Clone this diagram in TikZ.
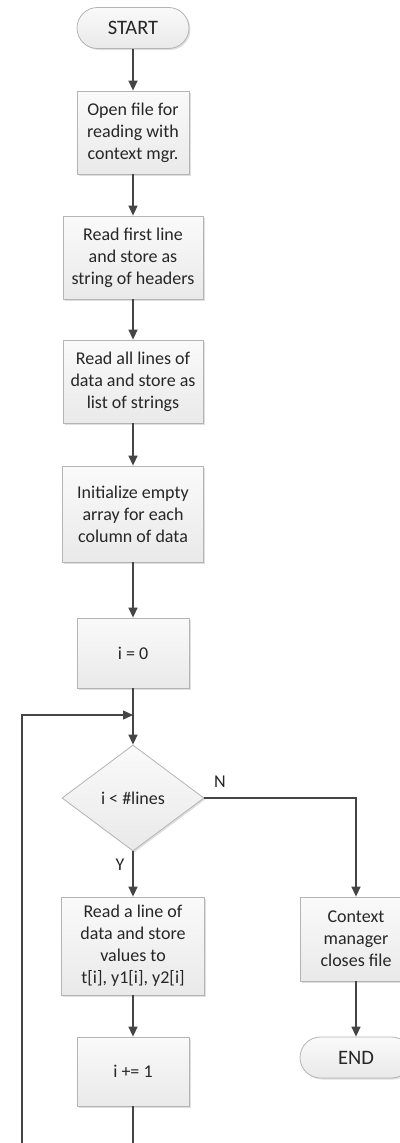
\documentclass[tikz,border=0pt]{standalone}
\usepackage{fontspec}
\setmainfont{Carlito}
\usetikzlibrary{arrows.meta,shapes.geometric,shadows}

\definecolor{linegray}{HTML}{454545}
\definecolor{edgegray}{HTML}{B4B4B4}
\definecolor{textgray}{HTML}{262626}

\tikzset{
  boxbase/.style={draw=edgegray, line width=0.8pt, top color=white!96!gray,
    bottom color=gray!17, text=textgray, align=center, inner sep=2pt,
    font=\fontsize{18}{22}\selectfont,
    drop shadow={shadow xshift=1.5pt, shadow yshift=-1.5pt, opacity=0.25, fill=gray}},
  procbox/.style={boxbase, rectangle},
  termbox/.style={boxbase, rectangle, rounded corners=20.5pt,
    minimum width=112pt, minimum height=41pt,
    font=\fontsize{20.5}{24}\selectfont},
  decbox/.style={boxbase, diamond, minimum width=142pt, minimum height=106pt,
    inner sep=0pt},
  flow/.style={draw=linegray, line width=1.4pt,
    -{Triangle[length=10pt,width=9pt]}},
  plainflow/.style={draw=linegray, line width=1.4pt},
  lbl/.style={text=textgray, font=\fontsize{18}{22}\selectfont}
}

\begin{document}
\begin{tikzpicture}[x=1pt, y=-1pt]
  \useasboundingbox (0,0) rectangle (399,1143);

  % main column
  \node[termbox] (start) at (133,28) {START};
  \node[procbox, minimum width=112pt, minimum height=83pt] (open) at (133,132.5)
    {Open file for\\reading with\\context mgr.};
  \node[procbox, minimum width=140pt, minimum height=83pt] (first) at (133,257.5)
    {Read first line\\and store as\\string of headers};
  \node[procbox, minimum width=140pt, minimum height=83pt] (all) at (133,381.5)
    {Read all lines of\\data and store as\\list of strings};
  \node[procbox, minimum width=141pt, minimum height=96pt] (init) at (133,514)
    {Initialize empty\\array for each\\column of data};
  \node[procbox, minimum width=112pt, minimum height=70pt] (izero) at (133,653)
    {i = 0};
  \node[decbox] (test) at (133,798) {i < \#lines};
  \node[procbox, minimum width=143pt, minimum height=98pt] (readline) at (133,946)
    {Read a line of\\data and store\\values to\\t[i], y1[i], y2[i]};
  \node[procbox, minimum width=112pt, minimum height=69pt] (inc) at (133,1071.5)
    {i += 1};

  % exit branch
  \node[procbox, minimum width=112pt, minimum height=84pt] (ctx) at (356,939)
    {Context\\manager\\closes file};
  \node[termbox] (stop) at (356,1057.5) {END};

  % branch labels
  \node[lbl] (nlabel) at (220,782) {N};
  \node[lbl] (ylabel) at (120,865) {Y};

  % loop helper points
  \coordinate (join) at (133,715);
  \coordinate (loopdown) at (133,1160);
  \coordinate (loopleft) at (22,1160);

  % connectors
  \draw[flow] (start) -- (open);
  \draw[flow] (open) -- (first);
  \draw[flow] (first) -- (all);
  \draw[flow] (all) -- (init);
  \draw[flow] (init) -- (izero);
  \draw[flow] (izero) -- (test);
  \draw[flow] (test.south) -- (readline);
  \draw[flow] (readline) -- (inc);
  \draw[flow] (test.east) -| (ctx.north);
  \draw[flow] (ctx) -- (stop);
  \draw[flow] (inc.south) -- (loopdown) -- (loopleft) |- (join);
\end{tikzpicture}
\end{document}
